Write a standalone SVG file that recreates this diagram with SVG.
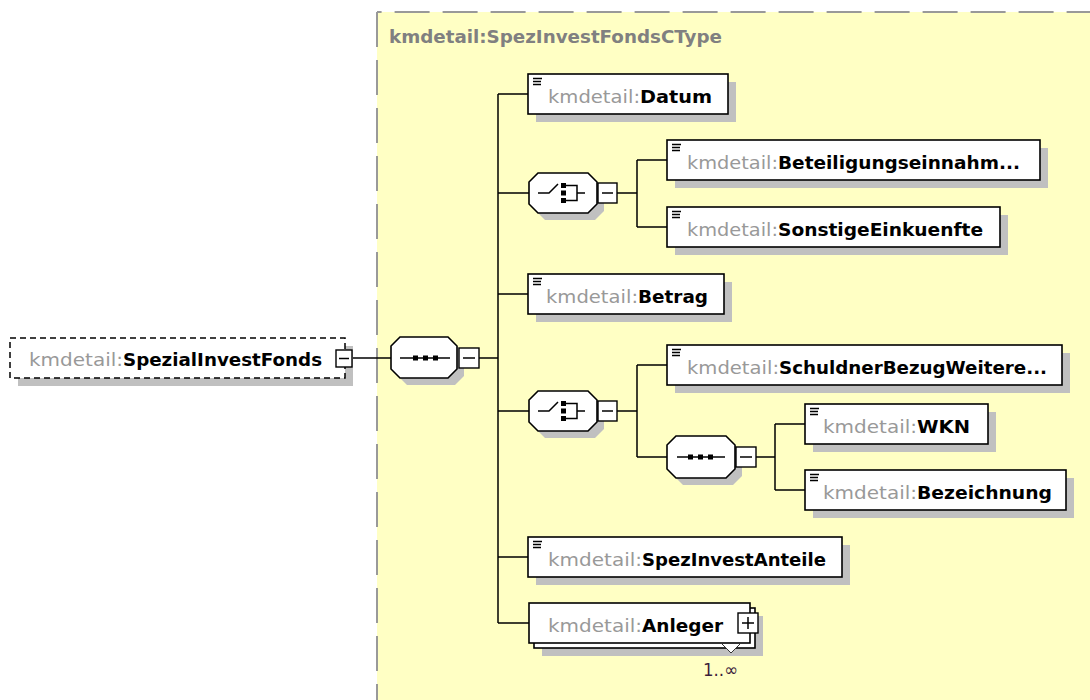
<svg xmlns="http://www.w3.org/2000/svg" width="1090" height="700" viewBox="0 0 1090 700">
<defs>
<style>
text{font-family:"DejaVu Sans","Liberation Sans",sans-serif;font-size:18px}
.ns{fill:#999999}
.nm{fill:#000000;font-weight:bold}
.box{fill:#ffffff;stroke:#000000;stroke-width:1.6}
.sh{fill:#c0c0c0}
.conn{stroke:#000000;stroke-width:1.5;fill:none}
.btn{fill:#ffffff;stroke:#000000;stroke-width:1.4}
.sym{stroke:#000000;stroke-width:1.5;fill:none}
.sq{fill:#000000}
</style>
<g id="doc"><path d="M0,0.5h9M0,3.5h8M0,6.5h8" stroke="#000" stroke-width="1.3" fill="none"/></g>
</defs>
<rect width="1090" height="700" fill="#ffffff"/>

<g id="type-box">
<rect x="377" y="12" width="730" height="700" fill="#ffffc4"/>
<path d="M377,12H1100" stroke="#999999" stroke-width="2" stroke-dasharray="35 13" stroke-dashoffset="30.4" fill="none"/>
<path d="M377,12V710" stroke="#999999" stroke-width="2" stroke-dasharray="35 13" fill="none"/>
<text x="389" y="43" font-weight="bold" fill="#808080" textLength="333" lengthAdjust="spacingAndGlyphs">kmdetail:SpezInvestFondsCType</text>
</g>

<g id="connectors">
<path class="conn" d="M352,358H391"/>
<path class="conn" d="M479,358H498"/>
<path class="conn" d="M498,94V623"/>
<path class="conn" d="M498,94H528M498,193H529M498,294H528M498,411H529M498,557H528M498,623H529"/>
<path class="conn" d="M617,193H637M637,160V227M637,160H667M637,227H667"/>
<path class="conn" d="M617,411H637M637,365V457M637,365H667M637,457H667"/>
<path class="conn" d="M756,457H775M775,424V490M775,424H805M775,490H805"/>
</g>

<g id="root">
<rect class="sh" x="18" y="346" width="335" height="40"/>
<rect x="10" y="338" width="335" height="40" fill="#ffffff" stroke="#000000" stroke-width="1.5" stroke-dasharray="6 4"/>
<text y="366"><tspan class="ns" x="29" textLength="94" lengthAdjust="spacingAndGlyphs">kmdetail:</tspan><tspan class="nm" x="123" textLength="199" lengthAdjust="spacingAndGlyphs">SpezialInvestFonds</tspan></text>
<rect class="btn" x="336" y="350" width="16" height="17"/>
<path class="sym" d="M339,358.5H349"/>
</g>

<g id="seq-main">
<path class="sh" d="M407,344H455L464,353V376L455,385H407L398,376V353Z"/>
<path class="box" d="M400,337H448L457,346V369L448,378H400L391,369V346Z"/>
<path class="sym" d="M400,358H450"/>
<rect class="sq" x="413" y="355.5" width="5" height="5"/>
<rect class="sq" x="423" y="355.5" width="5" height="5"/>
<rect class="sq" x="433" y="355.5" width="5" height="5"/>
<rect class="btn" x="459" y="348" width="20" height="20"/>
<path class="sym" d="M463,358H475"/>
</g>

<g id="el-datum">
<rect class="sh" x="536" y="82" width="200" height="40"/>
<rect class="box" x="528" y="74" width="200" height="40"/>
<use href="#doc" x="533" y="78"/>
<text y="103"><tspan class="ns" x="548" textLength="92" lengthAdjust="spacingAndGlyphs">kmdetail:</tspan><tspan class="nm" x="640" textLength="72" lengthAdjust="spacingAndGlyphs">Datum</tspan></text>
</g>

<g id="choice-1">
<path class="sh" d="M545,180H595L604,189V211L595,220H545L536,211V189Z"/>
<path class="box" d="M538,173H588L597,182V204L588,213H538L529,204V182Z"/>
<path class="sym" d="M538,193H549L558,184"/>
<rect class="sq" x="561" y="183" width="5" height="5"/>
<rect class="sq" x="561" y="190.5" width="5" height="5"/>
<rect class="sq" x="561" y="198" width="5" height="5"/>
<path class="sym" d="M566,185.5H577V200.5H566M577,193H585"/>
<rect class="btn" x="598" y="183" width="19" height="20"/>
<path class="sym" d="M602,193H613"/>
</g>

<g id="el-beteiligung">
<rect class="sh" x="675" y="148" width="373" height="40"/>
<rect class="box" x="667" y="140" width="373" height="40"/>
<use href="#doc" x="672" y="144"/>
<text y="169"><tspan class="ns" x="687" textLength="91" lengthAdjust="spacingAndGlyphs">kmdetail:</tspan><tspan class="nm" x="778" textLength="242" lengthAdjust="spacingAndGlyphs">Beteiligungseinnahm...</tspan></text>
</g>

<g id="el-sonstige">
<rect class="sh" x="675" y="215" width="333" height="40"/>
<rect class="box" x="667" y="207" width="333" height="40"/>
<use href="#doc" x="672" y="211"/>
<text y="236"><tspan class="ns" x="687" textLength="91" lengthAdjust="spacingAndGlyphs">kmdetail:</tspan><tspan class="nm" x="778" textLength="205" lengthAdjust="spacingAndGlyphs">SonstigeEinkuenfte</tspan></text>
</g>

<g id="el-betrag">
<rect class="sh" x="536" y="282" width="196" height="40"/>
<rect class="box" x="528" y="274" width="196" height="40"/>
<use href="#doc" x="533" y="278"/>
<text y="303"><tspan class="ns" x="546" textLength="92" lengthAdjust="spacingAndGlyphs">kmdetail:</tspan><tspan class="nm" x="638" textLength="70" lengthAdjust="spacingAndGlyphs">Betrag</tspan></text>
</g>

<g id="choice-2">
<path class="sh" d="M545,398H595L604,407V429L595,438H545L536,429V407Z"/>
<path class="box" d="M538,391H588L597,400V422L588,431H538L529,422V400Z"/>
<path class="sym" d="M538,411H549L558,402"/>
<rect class="sq" x="561" y="401" width="5" height="5"/>
<rect class="sq" x="561" y="408.5" width="5" height="5"/>
<rect class="sq" x="561" y="416" width="5" height="5"/>
<path class="sym" d="M566,403.5H577V418.5H566M577,411H585"/>
<rect class="btn" x="598" y="401" width="19" height="20"/>
<path class="sym" d="M602,411H613"/>
</g>

<g id="el-schuldner">
<rect class="sh" x="675" y="353" width="395" height="40"/>
<rect class="box" x="667" y="345" width="395" height="40"/>
<use href="#doc" x="672" y="349"/>
<text y="374"><tspan class="ns" x="687" textLength="92" lengthAdjust="spacingAndGlyphs">kmdetail:</tspan><tspan class="nm" x="779" textLength="268" lengthAdjust="spacingAndGlyphs">SchuldnerBezugWeitere...</tspan></text>
</g>

<g id="seq-inner">
<path class="sh" d="M683,443H733L742,452V476L733,485H683L674,476V452Z"/>
<path class="box" d="M676,436H726L735,445V469L726,478H676L667,469V445Z"/>
<path class="sym" d="M677,457H725"/>
<rect class="sq" x="688" y="454.5" width="5" height="5"/>
<rect class="sq" x="698" y="454.5" width="5" height="5"/>
<rect class="sq" x="708" y="454.5" width="5" height="5"/>
<rect class="btn" x="736" y="447" width="20" height="20"/>
<path class="sym" d="M740,457H752"/>
</g>

<g id="el-wkn">
<rect class="sh" x="813" y="412" width="183" height="40"/>
<rect class="box" x="805" y="404" width="183" height="40"/>
<use href="#doc" x="810" y="408"/>
<text y="433"><tspan class="ns" x="823" textLength="94" lengthAdjust="spacingAndGlyphs">kmdetail:</tspan><tspan class="nm" x="917" textLength="53" lengthAdjust="spacingAndGlyphs">WKN</tspan></text>
</g>

<g id="el-bezeichnung">
<rect class="sh" x="813" y="478" width="261" height="40"/>
<rect class="box" x="805" y="470" width="261" height="40"/>
<use href="#doc" x="810" y="474"/>
<text y="499"><tspan class="ns" x="823" textLength="94" lengthAdjust="spacingAndGlyphs">kmdetail:</tspan><tspan class="nm" x="917" textLength="135" lengthAdjust="spacingAndGlyphs">Bezeichnung</tspan></text>
</g>

<g id="el-anteile">
<rect class="sh" x="536" y="545" width="314" height="40"/>
<rect class="box" x="528" y="537" width="314" height="40"/>
<use href="#doc" x="533" y="541"/>
<text y="566"><tspan class="ns" x="548" textLength="94" lengthAdjust="spacingAndGlyphs">kmdetail:</tspan><tspan class="nm" x="642" textLength="184" lengthAdjust="spacingAndGlyphs">SpezInvestAnteile</tspan></text>
</g>

<g id="el-anleger">
<rect class="sh" x="542" y="616" width="221" height="40"/>
<rect class="box" x="534" y="608" width="221" height="40"/>
<rect class="box" x="529" y="603" width="221" height="40"/>
<path d="M722,644L731,653L740,644" stroke="#333333" stroke-width="1" fill="#ffffff"/>
<text y="632"><tspan class="ns" x="548" textLength="94" lengthAdjust="spacingAndGlyphs">kmdetail:</tspan><tspan class="nm" x="642" textLength="81" lengthAdjust="spacingAndGlyphs">Anleger</tspan></text>
<rect class="btn" x="738" y="613" width="20" height="20"/>
<path class="sym" d="M742,623H754M748,617V629"/>
<text x="703" y="676" font-size="15" fill="#3c1e3c" textLength="35" lengthAdjust="spacingAndGlyphs">1..∞</text>
</g>
</svg>
